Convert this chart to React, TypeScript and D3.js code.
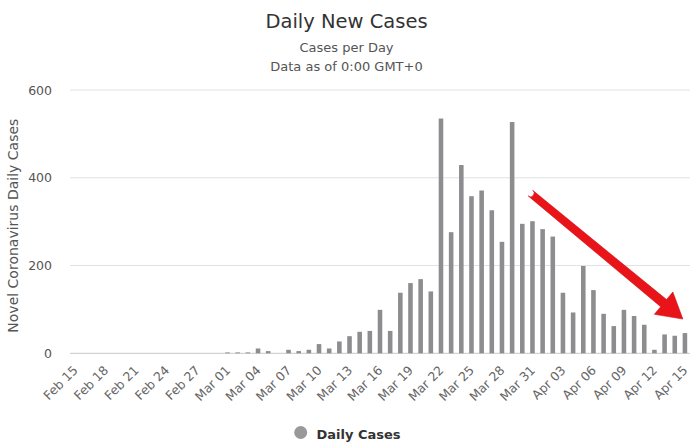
import React from "react";
import * as d3 from "d3";

const categories: string[] = [
  "Feb 15", "Feb 16", "Feb 17", "Feb 18", "Feb 19", "Feb 20", "Feb 21", "Feb 22", "Feb 23", "Feb 24",
  "Feb 25", "Feb 26", "Feb 27", "Feb 28", "Feb 29",
  "Mar 01", "Mar 02", "Mar 03", "Mar 04", "Mar 05", "Mar 06", "Mar 07", "Mar 08", "Mar 09", "Mar 10",
  "Mar 11", "Mar 12", "Mar 13", "Mar 14", "Mar 15", "Mar 16", "Mar 17", "Mar 18", "Mar 19", "Mar 20",
  "Mar 21", "Mar 22", "Mar 23", "Mar 24", "Mar 25", "Mar 26", "Mar 27", "Mar 28", "Mar 29", "Mar 30",
  "Mar 31",
  "Apr 01", "Apr 02", "Apr 03", "Apr 04", "Apr 05", "Apr 06", "Apr 07", "Apr 08", "Apr 09", "Apr 10",
  "Apr 11", "Apr 12", "Apr 13", "Apr 14", "Apr 15",
];

const dailyCases: number[] = [
  0, 0, 0, 0, 0, 0, 0, 0, 0, 0, 0, 0, 0, 0, 0,
  2, 2, 2, 11, 5, 0, 8, 5, 8, 21,
  11, 27, 39, 49, 51, 99, 51, 138, 160, 169,
  141, 535, 276, 429, 358, 371, 326, 254, 527, 295,
  301,
  283, 266, 138, 93, 199, 144, 90, 62, 99, 85,
  65, 8, 43, 40, 46,
];

const yTicks: number[] = [0, 200, 400, 600];

// annotation arrow (category index position, value)
const arrowStart = { index: 44.8, value: 365 };
const arrowEnd = { index: 59.8, value: 78 };

const W = 693;
const H = 446;
const FONT = "'DejaVu Sans', Verdana, sans-serif";

export default function App() {
  const left = 70;
  const right = 690;
  const top = 90;
  const bottom = 353.3;

  const x = d3
    .scaleBand<string>()
    .domain(categories)
    .range([left, right])
    .paddingInner(0.55)
    .paddingOuter(0.275);
  const y = d3.scaleLinear().domain([0, 600]).range([bottom, top]);

  const step = x.step();
  const bw = x.bandwidth();
  const x0 = (x(categories[0]) as number) + bw / 2;
  const xAt = (i: number) => x0 + i * step;

  // arrow geometry
  const sx = xAt(arrowStart.index);
  const sy = y(arrowStart.value);
  const tx = xAt(arrowEnd.index);
  const ty = y(arrowEnd.value);
  const dx = tx - sx;
  const dy = ty - sy;
  const len = Math.hypot(dx, dy);
  const ux = dx / len;
  const uy = dy / len;
  const nx = -uy;
  const ny = ux;
  const headLen = 25;
  const headHalf = 14.5;
  const w0 = 3.6;
  const w1 = 4.6;
  const bx = tx - ux * headLen;
  const by = ty - uy * headLen;
  const arrowPath = [
    `M${sx + nx * w0},${sy + ny * w0}`,
    `L${bx + nx * w1},${by + ny * w1}`,
    `L${bx + nx * headHalf},${by + ny * headHalf}`,
    `L${tx},${ty}`,
    `L${bx - nx * headHalf},${by - ny * headHalf}`,
    `L${bx - nx * w1},${by - ny * w1}`,
    `L${sx - nx * w0},${sy - ny * w0}`,
    `A${w0},${w0} 0 0 1 ${sx + nx * w0},${sy + ny * w0}`,
    "Z",
  ].join(" ");

  return (
    <svg
      width={W}
      height={H}
      style={{ position: "absolute", left: 0, top: 0, background: "#fff" }}
      fontFamily={FONT}
    >
      <rect x={0} y={0} width={W} height={H} fill="#fff" />
      {/* titles */}
      <text x={W / 2} y={28} textAnchor="middle" fontSize={19.5} fill="#333">
        Daily New Cases
      </text>
      <text x={W / 2} y={52} textAnchor="middle" fontSize={13} fill="#555">
        Cases per Day
      </text>
      <text x={W / 2} y={70.5} textAnchor="middle" fontSize={13} fill="#555">
        Data as of 0:00 GMT+0
      </text>

      {/* grid */}
      {yTicks.map((t) => (
        <g key={t}>
          <line
            x1={left}
            x2={right}
            y1={y(t)}
            y2={y(t)}
            stroke={t === 0 ? "#c8c8c8" : "#e2e2e2"}
            strokeWidth={1}
          />
          <text
            x={52}
            y={y(t) + 4.5}
            textAnchor="end"
            fontSize={12.5}
            fill="#555"
          >
            {t}
          </text>
        </g>
      ))}

      {/* y axis title */}
      <text
        transform={`translate(17.5, ${(top + bottom) / 2 + 4}) rotate(-90)`}
        textAnchor="middle"
        fontSize={14}
        fill="#555"
      >
        Novel Coronavirus Daily Cases
      </text>

      {/* bars */}
      {dailyCases.map((v, i) =>
        v > 0 ? (
          <rect
            key={categories[i]}
            x={x(categories[i]) as number}
            y={y(v)}
            width={bw}
            height={bottom - y(v)}
            fill="#8d8d8f"
          />
        ) : null
      )}

      {/* x labels */}
      {categories.map((c, i) =>
        i % 3 === 0 ? (
          <text
            key={c}
            transform={`translate(${xAt(i) + 3.5}, 371) rotate(-45)`}
            textAnchor="end"
            fontSize={12.5}
            fill="#666"
          >
            {c}
          </text>
        ) : null
      )}

      {/* arrow annotation */}
      <path d={arrowPath} fill="#e8141a" stroke="#d10f14" strokeWidth={0.6} />

      {/* legend */}
      <circle cx={300.7} cy={432.5} r={6.5} fill="#999" />
      <text x={316.5} y={438.5} fontSize={13} fontWeight="bold" fill="#333">
        Daily Cases
      </text>
    </svg>
  );
}
